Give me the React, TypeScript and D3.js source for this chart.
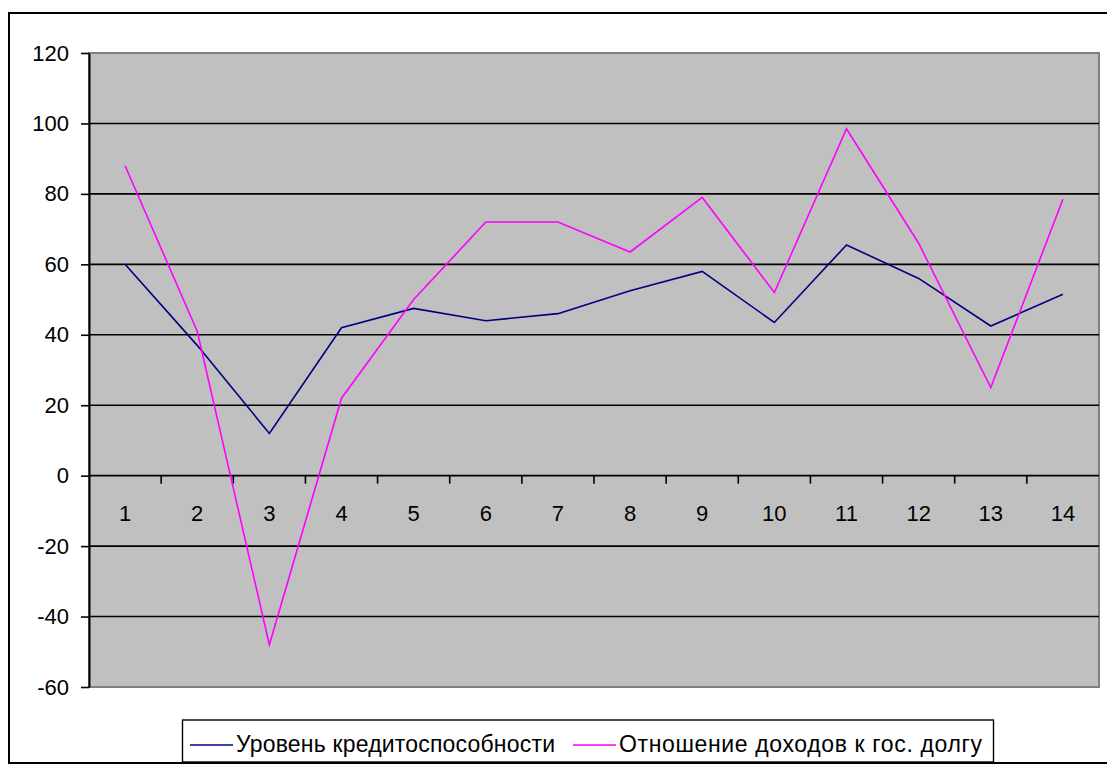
import React, { useEffect, useRef } from 'react';
import * as d3 from 'd3';

// categories along x
const categories = ['1', '2', '3', '4', '5', '6', '7', '8', '9', '10', '11', '12', '13', '14'];

// series values
const creditLevel = [60, 37, 12, 42, 47.5, 44, 46, 52.5, 58, 43.5, 65.5, 56, 42.5, 51.5];
const incomeToDebt = [88, 41, -48, 22, 50, 72, 72, 63.5, 79, 52, 98.5, 66, 25, 78.5];

const seriesNames = ['Уровень кредитоспособности', 'Отношение доходов к гос. долгу'];
const seriesColors = ['#000080', '#FF00FF'];

const yTicks = [-60, -40, -20, 0, 20, 40, 60, 80, 100, 120];

const W = 1107;
const H = 764;
const plot = { left: 89, right: 1099, top: 53, bottom: 687 };
const font = '"Liberation Sans", Arial, sans-serif';

export default function App() {
  const ref = useRef<SVGSVGElement>(null);

  useEffect(() => {
    const svg = d3.select(ref.current);
    svg.selectAll('*').remove();

    const x = d3.scaleBand<string>().domain(categories).range([plot.left, plot.right]);
    const y = d3.scaleLinear().domain([-60, 120]).range([plot.bottom, plot.top]);

    // outer chart frame
    svg.append('rect')
      .attr('x', 9).attr('y', 13)
      .attr('width', W + 20).attr('height', H - 14)
      .attr('fill', 'white').attr('stroke', '#000').attr('stroke-width', 2);

    // plot area
    svg.append('rect')
      .attr('x', plot.left).attr('y', plot.top)
      .attr('width', plot.right - plot.left).attr('height', plot.bottom - plot.top)
      .attr('fill', '#C0C0C0').attr('stroke', '#808080').attr('stroke-width', 2);

    // grid lines
    svg.append('g')
      .selectAll('line')
      .data(yTicks.filter(t => t !== -60 && t !== 120))
      .enter()
      .append('line')
      .attr('x1', plot.left).attr('x2', plot.right)
      .attr('y1', d => y(d)).attr('y2', d => y(d))
      .attr('stroke', '#000').attr('stroke-width', 1.6);

    // y axis
    const yAxis = d3.axisLeft(y)
      .tickValues(yTicks)
      .tickFormat(d => String(d))
      .tickSize(8).tickSizeOuter(0).tickPadding(12);
    const yg = svg.append('g').attr('transform', `translate(${plot.left},0)`).call(yAxis);
    yg.select('.domain').attr('stroke', '#000').attr('stroke-width', 2);
    yg.selectAll('line').attr('stroke', '#000').attr('stroke-width', 1.6);
    yg.selectAll('text')
      .attr('fill', '#000')
      .style('font-family', font).style('font-size', '22px');

    // x axis on zero line, ticks between categories
    const xg = svg.append('g').attr('transform', `translate(0,${y(0)})`);
    xg.selectAll('line')
      .data(categories.slice(1))
      .enter()
      .append('line')
      .attr('x1', d => x(d)!).attr('x2', d => x(d)!)
      .attr('y1', 0).attr('y2', 8)
      .attr('stroke', '#000').attr('stroke-width', 1.6);
    xg.selectAll('text')
      .data(categories)
      .enter()
      .append('text')
      .attr('x', d => x(d)! + x.bandwidth() / 2)
      .attr('y', 45)
      .attr('text-anchor', 'middle')
      .style('font-family', font).style('font-size', '22px')
      .text(d => d);

    // lines
    const series = [creditLevel, incomeToDebt];
    const lineGen = d3.line<number>()
      .x((_, i) => x(categories[i])! + x.bandwidth() / 2)
      .y(d => y(d));
    series.forEach((s, k) => {
      svg.append('path')
        .datum(s)
        .attr('fill', 'none')
        .attr('stroke', seriesColors[k])
        .attr('stroke-width', 1.6)
        .attr('d', lineGen);
    });

    // legend
    const lg = svg.append('g');
    lg.append('rect')
      .attr('x', 182.5).attr('y', 720)
      .attr('width', 811).attr('height', 42)
      .attr('fill', 'white').attr('stroke', '#000').attr('stroke-width', 1.4);
    const legendX = [190, 573];
    const legendW = [319, 363];
    seriesNames.forEach((name, k) => {
      lg.append('line')
        .attr('x1', legendX[k]).attr('x2', legendX[k] + 43)
        .attr('y1', 745).attr('y2', 745)
        .attr('stroke', seriesColors[k]).attr('stroke-width', 1.6);
      lg.append('text')
        .attr('x', legendX[k] + 46).attr('y', 752)
        .style('font-family', font).style('font-size', '23px')
        .attr('textLength', legendW[k])
        .attr('lengthAdjust', 'spacing')
        .text(name);
    });
  }, []);

  return (
    <svg ref={ref} width={W} height={H} style={{ position: 'absolute', left: 0, top: 0 }} />
  );
}
